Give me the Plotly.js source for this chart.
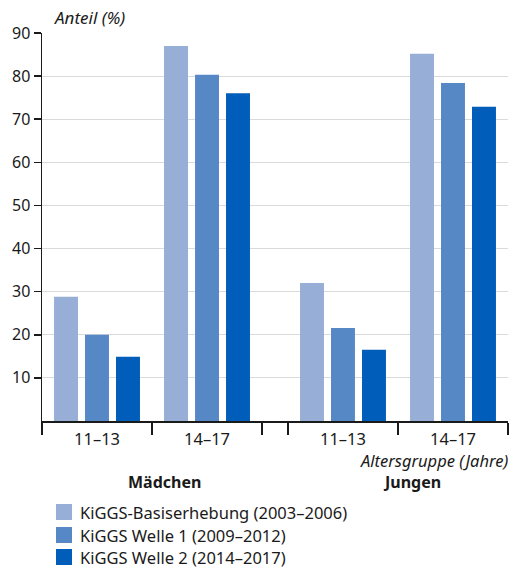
<!DOCTYPE html>
<html><head><meta charset="utf-8">
<script src="https://cdn.plot.ly/plotly-3.0.1.min.js"></script>
<style>body{margin:0;background:#fff}#chart{width:513px;height:569px}</style>
</head><body><div id="chart"></div>
<script>
const ageGroups = ['11–13', '14–17', '11–13', '14–17'];
const sexes = ['Mädchen', 'Jungen'];
const seriesNames = ['KiGGS-Basiserhebung (2003–2006)', 'KiGGS Welle 1 (2009–2012)', 'KiGGS Welle 2 (2014–2017)'];
const basis = [28.8, 87.0, 32.0, 85.2];
const welle1 = [20.0, 80.3, 21.6, 78.4];
const welle2 = [14.9, 76.0, 16.5, 72.9];
const yTicks = [10, 20, 30, 40, 50, 60, 70, 80, 90];

const colors = ['#97afd7', '#5788c6', '#005db9'];
const gap = 0.236;
const W = 513, H = 569;
const M = {l: 42, r: 5, t: 33, b: 148};
const pw = W - M.l - M.r, ph = H - M.t - M.b;
const px = x => (x - M.l) / pw;
const py = y => (H - M.b - y) / ph;

const centers = ageGroups.map((_, i) => i + 0.5 + (i >= 2 ? gap : 0));
const bounds = [0, 1, 2, 2 + gap, 3 + gap, 4 + gap];
const font = 'Noto Sans, Open Sans, sans-serif';
const txt = '#1a1a1a';

const values = [basis, welle1, welle2];
const traces = values.map((v, k) => ({
  type: 'bar', x: centers, y: v, name: seriesNames[k],
  marker: {color: colors[k]}, showlegend: false, hoverinfo: 'skip'
}));

const annotations = [
  {text: '<i>Anteil (%)</i>', xref: 'paper', yref: 'paper', x: px(52), y: py(18), xanchor: 'left', yanchor: 'middle', showarrow: false, font: {family: font, size: 17, color: txt}},
  {text: '<i>Altersgruppe (Jahre)</i>', xref: 'paper', yref: 'paper', x: px(510), y: py(460), xanchor: 'right', yanchor: 'middle', showarrow: false, font: {family: font, size: 16.5, color: txt}},
  {text: '<b>' + sexes[0] + '</b>', xref: 'paper', yref: 'paper', x: px(164), y: py(482), xanchor: 'center', yanchor: 'middle', showarrow: false, font: {family: font, size: 16, color: txt}},
  {text: '<b>' + sexes[1] + '</b>', xref: 'paper', yref: 'paper', x: px(412), y: py(482), xanchor: 'center', yanchor: 'middle', showarrow: false, font: {family: font, size: 16, color: txt}}
];
const shapes = [];
const legendY = [512, 535, 557];
seriesNames.forEach((n, k) => {
  shapes.push({type: 'rect', xref: 'paper', yref: 'paper', x0: px(56), x1: px(72), y0: py(legendY[k] - 8), y1: py(legendY[k] + 8), fillcolor: colors[k], line: {width: 0}});
  annotations.push({text: n, xref: 'paper', yref: 'paper', x: px(78), y: py(legendY[k]), xanchor: 'left', yanchor: 'middle', showarrow: false, font: {family: font, size: 16.5, color: txt}});
});

const layout = {
  width: W, height: H, margin: M, paper_bgcolor: '#fff', plot_bgcolor: '#fff',
  barmode: 'group', bargap: 0.155, bargroupgap: 0.227,
  font: {family: font, size: 16, color: txt},
  xaxis: {range: [0, 4 + gap], tickmode: 'array', tickvals: bounds, ticktext: bounds.map(() => ''),
          ticks: 'outside', ticklen: 12, tickwidth: 1.5, tickcolor: txt,
          showline: true, linecolor: txt, linewidth: 1.5, showgrid: false, zeroline: false, fixedrange: true},
  xaxis2: {overlaying: 'x', anchor: 'y', side: 'bottom', range: [0, 4 + gap], tickmode: 'array', tickvals: centers, ticktext: ageGroups,
           ticks: 'outside', ticklen: 3, tickcolor: 'rgba(0,0,0,0)', showline: false, showgrid: false, zeroline: false,
           tickfont: {family: font, size: 16.5, color: txt}},
  yaxis: {range: [0, 90], tickmode: 'array', tickvals: yTicks, ticks: 'outside', ticklen: 7, tickwidth: 1.5, tickcolor: txt,
          showline: true, linecolor: txt, linewidth: 1.5, showgrid: true, gridcolor: '#dadada', gridwidth: 1.2, zeroline: false,
          tickfont: {family: font, size: 16, color: txt}},
  annotations, shapes, showlegend: false
};
traces.push({type: 'scatter', x: [], y: [], xaxis: 'x2', yaxis: 'y', showlegend: false, hoverinfo: 'skip'});
Plotly.newPlot('chart', traces, layout, {displayModeBar: false, staticPlot: true});
</script></body></html>
